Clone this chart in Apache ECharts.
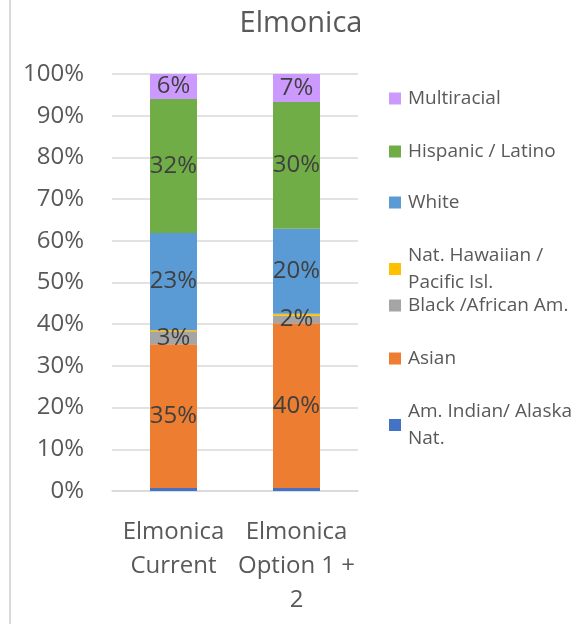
<!DOCTYPE html>
<html lang="en">
<head>
    <meta charset="UTF-8">
    <title>Elmonica</title>
    <script src="https://cdn.jsdelivr.net/npm/echarts@6/dist/echarts.min.js"></script>
    <style>
        html, body { margin: 0; padding: 0; background: #fff; }
        #chart { width: 581px; height: 624px; }
    </style>
</head>
<body>
<div id="chart"></div>
<script>
    // categories (x axis), wrapped the way the original shows them
    const categories = ['Elmonica\nCurrent', 'Elmonica\nOption 1 +\n2'];

    // share of students per group, in percent
    const amIndian     = [0.7, 0.7];
    const asian        = [34.5, 39.5];
    const black        = [3.1, 1.8];
    const natHawaiian  = [0.3, 0.5];
    const white        = [23.3, 20.4];
    const hispanic     = [32.1, 30.4];
    const multiracial  = [6.0, 6.7];

    const yTicks = [0, 10, 20, 30, 40, 50, 60, 70, 80, 90, 100];

    const font = '"Open Sans", sans-serif';

    // name, data, colour, show label?
    const groups = [
        ['Am. Indian/ Alaska\nNat.', amIndian, '#4472c4', false],
        ['Asian', asian, '#ed7d31', true],
        ['Black /African Am.', black, '#a5a5a5', true],
        ['Nat. Hawaiian /\nPacific Isl.', natHawaiian, '#ffc000', false],
        ['White', white, '#5b9bd5', true],
        ['Hispanic / Latino', hispanic, '#70ad47', true],
        ['Multiracial', multiracial, '#cc99ff', true]
    ];

    const series = groups.map(function (g) {
        return {
            name: g[0],
            type: 'bar',
            stack: 'all',
            barWidth: 47,
            data: g[1],
            itemStyle: {color: g[2]},
            label: {
                show: g[3],
                position: 'inside',
                color: '#404040',
                fontFamily: font,
                fontSize: 24,
                formatter: function (p) { return Math.round(p.value) + '%'; }
            }
        };
    });

    // legend, one block per item so the spacing can follow the original
    const legendTops = {
        'Multiracial': 85,
        'Hispanic / Latino': 138,
        'White': 189,
        'Nat. Hawaiian /\nPacific Isl.': 242,
        'Black /African Am.': 292,
        'Asian': 345,
        'Am. Indian/ Alaska\nNat.': 398
    };
    const legends = Object.keys(legendTops).map(function (name) {
        return {
            data: [name],
            orient: 'vertical',
            left: 389,
            top: legendTops[name],
            padding: 0,
            icon: 'rect',
            itemWidth: 12,
            itemHeight: 12,
            selectedMode: false,
            textStyle: {
                color: '#595959',
                fontFamily: font,
                fontSize: 19,
                lineHeight: 27,
                padding: [0, 0, 0, 2]
            }
        };
    });

    const option = {
        animation: false,
        backgroundColor: '#fff',
        title: {
            text: 'Elmonica',
            left: 296,
            top: 4,
            textAlign: 'center',
            textStyle: {color: '#595959', fontFamily: font, fontSize: 29, fontWeight: 'normal'}
        },
        legend: legends,
        grid: {left: 112, right: 223, top: 74, bottom: 133},
        xAxis: {
            type: 'category',
            data: categories,
            axisLine: {lineStyle: {color: '#d9d9d9', width: 1.5}},
            axisTick: {show: false},
            axisLabel: {
                interval: 0,
                color: '#595959',
                fontFamily: font,
                fontSize: 24,
                lineHeight: 34,
                margin: 24
            }
        },
        yAxis: {
            type: 'value',
            min: yTicks[0],
            max: yTicks[yTicks.length - 1],
            interval: 10,
            axisLine: {show: false},
            axisTick: {show: false},
            splitLine: {lineStyle: {color: '#d9d9d9', width: 1.5}},
            axisLabel: {
                color: '#595959',
                fontFamily: font,
                fontSize: 24,
                margin: 28,
                formatter: '{value}%'
            }
        },
        graphic: [{
            type: 'line',
            shape: {x1: 10, y1: 0, x2: 10, y2: 624},
            style: {stroke: '#d9d9d9', lineWidth: 2}
        }],
        series: series
    };

    const chart = echarts.init(document.getElementById('chart'));
    chart.setOption(option);
</script>
</body>
</html>
